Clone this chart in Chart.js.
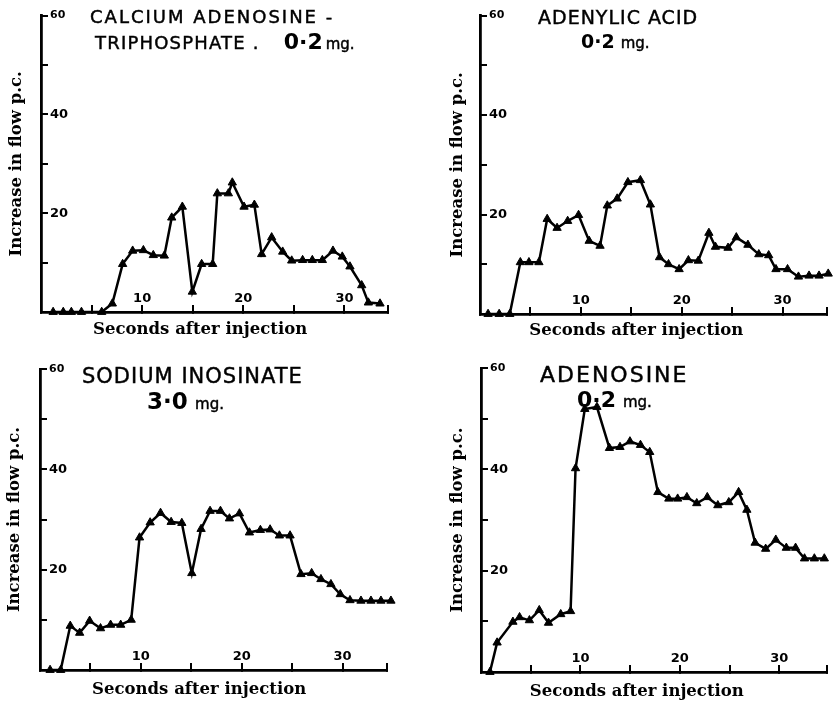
<!DOCTYPE html>
<html>
<head>
<meta charset="utf-8">
<script src="https://cdn.jsdelivr.net/npm/chart.js@4.4.1/dist/chart.umd.min.js"></script>
<style>
html,body{margin:0;padding:0;background:#fff;}
#page{position:relative;width:833px;height:705px;overflow:hidden;background:#fff;}
canvas{position:absolute;display:block;}
.ttl{position:absolute;white-space:nowrap;font-family:'DejaVu Sans',sans-serif;color:#000;line-height:1;-webkit-text-stroke:0.45px #000;}
.ttl b{font-weight:bold;-webkit-text-stroke:0;}
</style>
</head>
<body>
<div id="page">
  <canvas id="c1" width="420" height="345" style="left:0;top:0"></canvas>
  <canvas id="c2" width="393" height="345" style="left:440px;top:0"></canvas>
  <canvas id="c3" width="420" height="355" style="left:0;top:350px"></canvas>
  <canvas id="c4" width="393" height="355" style="left:440px;top:350px"></canvas>

  <div class="ttl" style="left:90px;top:8px;font-size:18px;letter-spacing:2px;">CALCIUM ADENOSINE -</div>
  <div class="ttl" style="left:95px;top:31px;font-size:18px;letter-spacing:1.2px;">TRIPHOSPHATE .<b style="font-size:22px;letter-spacing:0;margin-left:24px">0·2</b><span style="font-size:15px;letter-spacing:0;margin-left:3px">mg.</span></div>

  <div class="ttl" style="left:538px;top:8px;font-size:19px;letter-spacing:1px;">ADENYLIC ACID</div>
  <div class="ttl" style="left:581px;top:32px;font-size:19px;"><b>0·2</b> <span style="font-size:15px">mg.</span></div>

  <div class="ttl" style="left:82px;top:366px;font-size:21px;letter-spacing:1px;">SODIUM INOSINATE</div>
  <div class="ttl" style="left:147px;top:390px;font-size:23px;"><b>3·0</b> <span style="font-size:15px;">mg.</span></div>

  <div class="ttl" style="left:540px;top:364px;font-size:22px;letter-spacing:2px;">ADENOSINE</div>
  <div class="ttl" style="left:577px;top:389px;font-size:22px;"><b>0·2</b> <span style="font-size:15px;">mg.</span></div>
</div>
<script>
// ---- data (seconds after injection, increase in flow p.c.) ----
const catpSeconds = [1.2, 2.2, 3.0, 4.0, 6.0, 7.05, 8.07, 9.06, 10.12, 11.1, 12.19, 12.92, 13.97, 14.96, 15.88, 16.97, 17.43, 18.52, 18.91, 20.07, 21.09, 21.81, 22.8, 23.89, 24.78, 25.86, 26.82, 27.81, 28.86, 29.78, 30.54, 31.7, 32.36, 33.51];
const catpFlow    = [0, 0, 0, 0, 0, 1.7, 9.7, 12.4, 12.5, 11.5, 11.4, 19.1, 21.3, 4.1, 9.7, 9.7, 24.0, 24.0, 26.2, 21.3, 21.7, 11.7, 15.1, 12.2, 10.4, 10.5, 10.5, 10.5, 12.4, 11.2, 9.2, 5.4, 1.9, 1.7];

const adenylicSeconds = [0.8, 1.9, 2.95, 4.0, 4.85, 5.84, 6.66, 7.64, 8.69, 9.77, 10.82, 11.9, 12.62, 13.6, 14.66, 15.9, 16.89, 17.8, 18.69, 19.74, 20.66, 21.64, 22.69, 23.34, 24.59, 25.41, 26.56, 27.64, 28.62, 29.34, 30.49, 31.57, 32.62, 33.61, 34.52];
const adenylicFlow    = [0, 0, 0, 10.4, 10.4, 10.4, 19.1, 17.3, 18.7, 19.9, 14.7, 13.7, 21.8, 23.2, 26.5, 26.9, 22.0, 11.4, 10.0, 9.0, 10.8, 10.7, 16.3, 13.5, 13.3, 15.4, 13.9, 12.0, 11.8, 9.0, 9.0, 7.5, 7.7, 7.7, 8.1];

const inosinateSeconds = [1.0, 2.05, 3.0, 3.93, 4.92, 6.0, 7.0, 8.0, 9.04, 9.87, 10.92, 11.95, 13.0, 14.06, 15.05, 15.97, 16.86, 17.89, 18.78, 19.77, 20.76, 21.85, 22.81, 23.73, 24.79, 25.87, 26.93, 27.85, 28.84, 29.77, 30.73, 31.82, 32.81, 33.8, 34.79];
const inosinateFlow    = [0, 0, 8.8, 7.4, 9.8, 8.3, 9.0, 9.0, 10.0, 26.4, 29.4, 31.3, 29.5, 29.3, 19.3, 28.1, 31.7, 31.7, 30.2, 31.2, 27.4, 27.9, 28.0, 26.8, 26.8, 19.1, 19.3, 18.1, 17.1, 15.1, 13.9, 13.8, 13.8, 13.8, 13.8];

const adenosineSeconds = [0.9, 1.62, 3.21, 3.88, 4.87, 5.86, 6.79, 8.02, 9.01, 9.51, 10.44, 11.66, 12.92, 13.98, 14.98, 16.04, 16.97, 17.79, 18.89, 19.78, 20.71, 21.7, 22.76, 23.82, 24.92, 25.91, 26.74, 27.57, 28.63, 29.65, 30.71, 31.64, 32.54, 33.53, 34.53];
const adenosineFlow    = [0, 5.8, 9.9, 10.8, 10.2, 12.2, 9.7, 11.4, 12.0, 40.2, 51.9, 52.3, 44.2, 44.4, 45.5, 44.8, 43.4, 35.5, 34.2, 34.2, 34.5, 33.3, 34.5, 32.9, 33.5, 35.5, 32.0, 25.5, 24.3, 26.1, 24.5, 24.5, 22.4, 22.4, 22.4];

// ---- axes ----
const yTickValues = [0, 10, 20, 30, 40, 50, 60];
const yTickLabels = ['', '', '20', '', '40', '', '60'];
const xTickValues = [0, 5, 10, 15, 20, 25, 30];
const xTickLabels = ['', '', '10', '', '20', '', '30'];
const xAxisEnds   = [34.3, 34.4, 34.4, 34.8];
const yAxisTitle = 'Increase in flow p.c.';
const xAxisTitle = 'Seconds after injection';

const INK = '#000';

function makeChart(id, xs, ys, o) {
  const pts = xs.map((x, i) => ({x: x, y: ys[i]}));
  return new Chart(document.getElementById(id), {
    type: 'line',
    data: {datasets: [{
      data: pts,
      borderColor: INK, backgroundColor: INK,
      borderWidth: 2.5, tension: 0,
      pointStyle: 'triangle', pointRadius: 4.8, pointBorderWidth: 1,
      pointBackgroundColor: INK, pointBorderColor: INK,
      clip: false
    }]},
    options: {
      responsive: false, animation: false, events: [],
      layout: {padding: {top: o.padTop, right: o.padRight, left: 0, bottom: 0}},
      plugins: {legend: {display: false}, tooltip: {enabled: false}},
      scales: {
        x: {
          type: 'linear', min: 0, max: o.xMax,
          afterBuildTicks: s => { s.ticks = xTickValues.concat([o.xMax]).map(v => ({value: v})); },
          afterFit: s => { s.height = o.xHeight; },
          border: {display: true, color: INK, width: 2.8},
          grid: {display: true, drawOnChartArea: false, drawTicks: true, tickLength: -7, color: INK, lineWidth: 2},
          ticks: {
            mirror: true, padding: 6, autoSkip: false, maxRotation: 0, minRotation: 0,
            color: INK, font: {family: 'DejaVu Sans', size: 13, weight: 'bold'},
            callback: v => { const i = xTickValues.indexOf(v); return i >= 0 ? xTickLabels[i] : ''; }
          },
          title: {display: true, text: xAxisTitle + o.xTitlePad, color: INK,
                  font: {family: 'DejaVu Serif', weight: 'bold', size: 16.5},
                  padding: {top: 0, bottom: o.xTitleBottom}}
        },
        y: {
          type: 'linear', min: 0, max: 60,
          afterBuildTicks: s => { s.ticks = yTickValues.map(v => ({value: v})); },
          afterFit: s => { s.width = o.yWidth; },
          border: {display: true, color: INK, width: 2.8},
          grid: {display: true, drawOnChartArea: false, drawTicks: true, tickLength: -7, color: INK, lineWidth: 2},
          ticks: {
            mirror: true, padding: 9, autoSkip: false,
            color: INK,
            font: ctx => ({family: 'DejaVu Sans', weight: 'bold', size: (ctx.tick && ctx.tick.value === 60) ? 11 : 13}),
            callback: v => { const i = yTickValues.indexOf(v); return i >= 0 ? yTickLabels[i] : ''; }
          },
          title: {display: true, text: yAxisTitle, color: INK,
                  font: {family: 'DejaVu Serif', weight: 'bold', size: 16.5},
                  padding: {top: o.yTitleTop, bottom: 0}}
        }
      }
    }
  });
}

makeChart('c1', catpSeconds, catpFlow,
  {padTop: 11, padRight: 32, xMax: xAxisEnds[0], xHeight: 33, yWidth: 41, xTitleBottom: 5, yTitleTop: 7, xTitlePad: '     '});
makeChart('c2', adenylicSeconds, adenylicFlow,
  {padTop: 11, padRight: 3, xMax: xAxisEnds[1], xHeight: 31, yWidth: 40, xTitleBottom: 4, yTitleTop: 8, xTitlePad: '      '});
makeChart('c3', inosinateSeconds, inosinateFlow,
  {padTop: 19, padRight: 33, xMax: xAxisEnds[2], xHeight: 35, yWidth: 40, xTitleBottom: 5, yTitleTop: 5, xTitlePad: '     '});
makeChart('c4', adenosineSeconds, adenosineFlow,
  {padTop: 18, padRight: 1, xMax: xAxisEnds[3], xHeight: 33, yWidth: 41, xTitleBottom: 3, yTitleTop: 8, xTitlePad: '      '});
</script>
</body>
</html>
